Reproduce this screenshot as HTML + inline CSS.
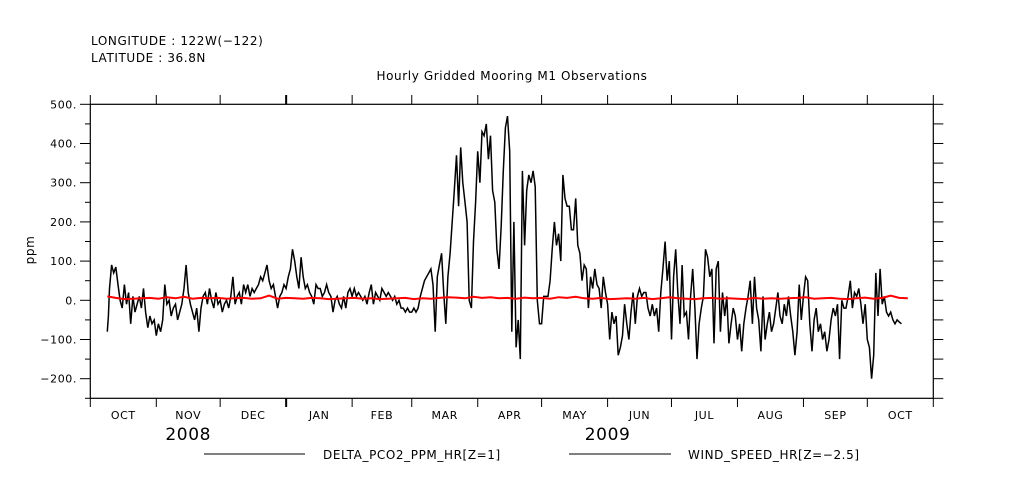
<!DOCTYPE html>
<html><head><meta charset="utf-8"><style>
body{margin:0;background:#fff;}
svg{display:block;font-family:"DejaVu Sans","Liberation Sans",sans-serif;}
text{letter-spacing:0.6px;}
</style></head><body>
<svg id="chart" width="1009" height="504" viewBox="0 0 1009 504">
<text x="91" y="45" font-size="12">LONGITUDE : 122W(−122)</text>
<text x="91" y="62" font-size="12">LATITUDE : 36.8N</text>
<text x="512" y="80" font-size="12" text-anchor="middle">Hourly Gridded Mooring M1 Observations</text>
<text transform="translate(34,250) rotate(-90)" font-size="12" text-anchor="middle">ppm</text>
<g id="axes"></g>
<g id="series"></g>
<line x1="204" y1="454" x2="305" y2="454" stroke="#000"/>
<text x="323" y="459" font-size="12">DELTA_PCO2_PPM_HR[Z=1]</text>
<line x1="569" y1="454" x2="671" y2="454" stroke="#000"/>
<text x="688" y="459" font-size="12">WIND_SPEED_HR[Z=−2.5]</text>
</svg>
<script>
const yTicks=[500,400,300,200,100,0,-100,-200];
const yTickLabels=["500.","400.","300.","200.","100.","0.","−100.","−200."];
const months=["OCT","NOV","DEC","JAN","FEB","MAR","APR","MAY","JUN","JUL","AUG","SEP","OCT"];
const monthDays=[31,30,31,31,28,31,30,31,30,31,31,30,31];
const years=["2008","2009"];
const deltaDays=[8,8.5,9,10,11,12,13,14,15,16,17,18,19,20,21,22,23,24,25,26,27,28,29,30,31,32,33,34,35,36,37,38,39,40,41,42,43,44,45,46,47,48,49,50,51,52,53,54,55,56,57,58,59,60,61,62,63,64,65,66,67,68,69,70,71,72,73,74,75,76,77,78,79,80,81,82,83,84,85,86,87,88,89,90,91,92,93,94,95,96,97,98,99,100,101,102,103,104,105,106,107,108,109,110,111,112,113,114,115,116,117,118,119,120,121,122,123,124,125,126,127,128,129,130,131,132,133,134,135,136,137,138,139,140,141,142,143,144,145,146,147,148,149,150,151,152,153,154,155,156,157,158,159,160,161,162,163,164,165,166,167,168,169,170,171,172,173,174,175,176,177,178,179,180,181,182,183,184,185,186,187,188,189,190,191,192,193,194,195,196,197,198,199,200,201,202,203,204,205,206,207,208,209,210,211,212,213,214,215,216,217,218,219,220,221,222,223,224,225,226,227,228,229,230,231,232,233,234,235,236,237,238,239,240,241,242,243,244,245,246,247,248,249,250,251,252,253,254,255,256,257,258,259,260,261,262,263,264,265,266,267,268,269,270,271,272,273,274,275,276,277,278,279,280,281,282,283,284,285,286,287,288,289,290,291,292,293,294,295,296,297,298,299,300,301,302,303,304,305,306,307,308,309,310,311,312,313,314,315,316,317,318,319,320,321,322,323,324,325,326,327,328,329,330,331,332,333,334,335,336,337,338,339,340,341,342,343,344,345,346,347,348,349,350,351,352,353,354,355,356,357,358,359,360,361,362,363,364,365,366,367,368,369,370,371,372,373,374,375,376,377,378,379,380,381,382,383,384];
const deltaValues=[-80,-40,30,90,70,85,40,0,-20,40,-10,20,-60,10,-30,-10,10,-20,30,-30,-70,-40,-60,-50,-90,-60,-80,-50,40,-10,0,-40,-20,-10,-50,-30,-10,30,90,20,-10,-30,-50,-20,-80,-20,10,20,-10,30,0,-20,20,-10,0,-30,-10,0,-20,10,60,-10,10,20,-10,40,20,40,10,30,20,30,40,60,50,70,90,50,30,40,10,-20,10,20,40,30,60,80,130,100,60,30,110,60,30,40,20,10,-10,40,30,30,10,20,40,20,10,-30,0,10,-10,-20,10,-20,20,30,10,30,10,20,10,0,10,-10,20,40,-10,20,10,0,30,20,10,20,10,0,10,-10,0,-20,-20,-30,-20,-30,-30,-20,-30,-20,10,30,50,60,70,80,40,-80,60,90,120,20,-60,60,120,200,280,370,240,390,300,250,200,0,-20,150,250,380,300,430,420,450,360,420,280,250,130,80,190,330,440,470,380,-80,200,-120,-50,-150,330,140,280,320,300,330,290,0,-60,-60,10,10,10,50,130,200,140,170,100,320,260,240,240,180,180,260,140,120,50,90,80,-20,60,30,80,40,30,-20,60,20,-10,-100,-30,-60,-40,-140,-120,-90,-10,-60,-100,-30,20,-60,10,30,10,20,20,-20,-40,-10,-40,-20,-80,20,80,150,50,100,-100,60,130,20,-60,90,-40,-30,-100,10,80,-20,-150,-60,-20,10,130,110,60,80,-110,80,100,-80,20,-40,10,-110,-60,-20,-40,-100,-60,-130,-60,-20,10,50,-60,60,-20,-50,-130,10,-100,-60,-30,-80,-60,-20,20,-40,-60,-10,-40,10,-40,-80,-140,-80,40,-50,10,60,50,-60,-130,-50,-20,-80,-60,-100,-80,-130,-100,-50,-20,-40,-10,-150,0,-20,-20,10,50,-20,20,10,30,-10,-60,-10,-100,-120,-200,-140,70,-40,80,-10,10,-30,-40,-30,-50,-60,-50,-55,-60];
const windDays=[8,12,16,20,24,28,32,36,40,44,48,52,56,60,64,68,72,76,80,84,88,92,96,100,104,108,112,116,120,124,128,132,136,140,144,148,152,156,160,164,168,172,176,180,184,188,192,196,200,204,208,212,216,220,224,228,232,236,240,244,248,252,256,260,264,268,272,276,280,284,288,292,296,300,304,308,312,316,320,324,328,332,336,340,344,348,352,356,360,364,368,372,376,380,384];
const windValues=[10,6,3,4,5,6,4,8,5,9,4,6,5,6,4,5,6,4,5,12,4,6,5,4,6,5,3,4,5,6,4,5,3,4,5,6,3,5,4,6,8,7,5,9,6,8,5,6,4,7,5,6,4,8,6,9,5,4,6,3,4,5,4,6,3,5,8,5,4,3,5,6,4,5,4,3,6,4,5,4,5,6,8,4,5,6,4,3,5,7,4,6,12,6,5];

const NS="http://www.w3.org/2000/svg";
const X0=90.3,X1=933.3,Y0=104.3,Y1=398.3,VMIN=-250,VMAX=500,DMAX=396;
function xScale(d){return X0+(X1-X0)*d/DMAX;}
function yScale(v){return Y1-(Y1-Y0)*(v-VMIN)/(VMAX-VMIN);}
const axes=document.getElementById('axes');
const series=document.getElementById('series');
function mk(tag,attrs,parent){const e=document.createElementNS(NS,tag);for(const k in attrs)e.setAttribute(k,attrs[k]);parent.appendChild(e);return e;}

const frame=mk('rect',{x:X0,y:Y0,width:X1-X0,height:Y1-Y0,fill:'none',stroke:'#000','stroke-width':1.2},axes);



for(let v=-250;v<=500;v+=50){
  const y=yScale(v);const major=(v%100===0);
  const t=mk('line',{x1:major?80:85,x2:X0,y1:y,y2:y,stroke:'#000'},axes);
  
  
  const r=mk('line',{x1:X1,x2:X1+10,y1:y,y2:y,stroke:'#000'},axes);
  
  
}
yTicks.forEach((v,i)=>{
  const t=mk('text',{x:77,y:yScale(v)+4,'font-size':11,'text-anchor':'end'},axes);
  t.textContent=yTickLabels[i];
  
  
});
let d=0;
for(let i=0;i<=months.length;i++){
  const x=xScale(d);const bold=(i===3);
  const a=mk('line',{x1:x,x2:x,y1:95,y2:Y0,stroke:'#000','stroke-width':bold?2:1},axes);
  
  
  const b=mk('line',{x1:x,x2:x,y1:Y1,y2:407,stroke:'#000','stroke-width':bold?2:1},axes);
  
  
  if(i<months.length){
    const t=mk('text',{x:xScale(d+monthDays[i]/2),y:419,'font-size':11,'text-anchor':'middle'},axes);
    t.textContent=months[i];
    
    
    d+=monthDays[i];
  }
}
[[years[0],46],[years[1],243]].forEach(p=>{
  const t=mk('text',{x:xScale(p[1]),y:440,'font-size':17,'text-anchor':'middle'},axes);
  t.textContent=p[0];
  
  
});
function path(days,vals,color,w,name){
  let s='';days.forEach((dd,i)=>{s+=(i?'L':'M')+xScale(dd).toFixed(1)+','+yScale(vals[i]).toFixed(1);});
  const p=mk('path',{d:s,fill:'none',stroke:color,'stroke-width':w},series);
  
  
}
path(deltaDays,deltaValues,'#000',1.5,'delta-pco2-line');
path(windDays,windValues,'#f00',2,'wind-speed-line');
</script>
</body></html>
